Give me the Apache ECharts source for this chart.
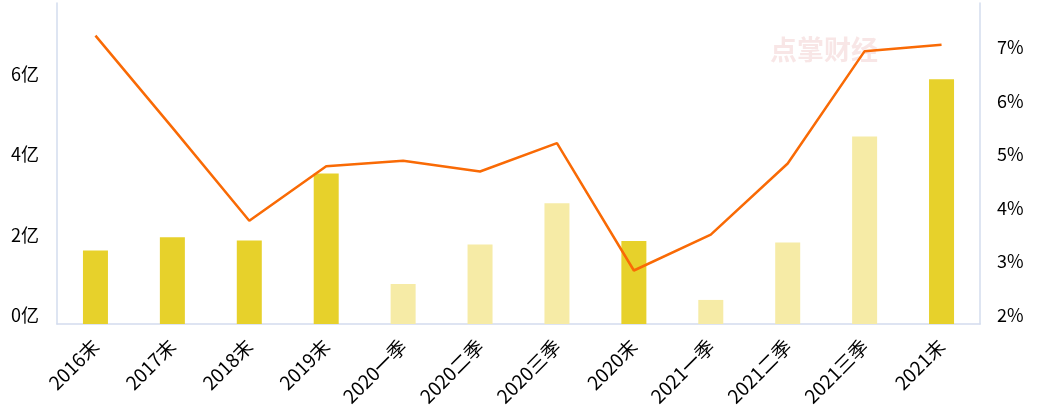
<!DOCTYPE html>
<html>
<head>
<meta charset="utf-8">
<script src="https://cdn.jsdelivr.net/npm/echarts@6/dist/echarts.min.js"></script>
<style>
html,body{margin:0;padding:0;background:#fff;}
#chart{width:1039px;height:420px;}
</style>
</head>
<body>
<div id="chart"></div>
<script>
const categories = ['2016末','2017末','2018末','2019末','2020一季','2020二季','2020三季','2020末','2021一季','2021二季','2021三季','2021末'];
const amounts = [1.83, 2.16, 2.08, 3.75, 1.00, 1.98, 3.01, 2.07, 0.60, 2.03, 4.67, 6.10];
const rates = [7.39, 5.67, 3.93, 4.95, 5.05, 4.85, 5.38, 3.00, 3.67, 5.00, 7.10, 7.22];

const FONT = '"Noto Sans CJK SC", "Noto Sans", sans-serif';
const chart = echarts.init(document.getElementById('chart'));
chart.setOption({
  animation: false,
  backgroundColor: '#ffffff',
  grid: { left: 57, right: 59, top: 3, bottom: 96, containLabel: false },
  graphic: [{
    type: 'text', left: 770, top: 36, z: 0,
    style: { text: '点掌财经', fontSize: 27, fontWeight: 'bold', fontFamily: FONT, fill: 'rgba(225,140,140,0.22)' }
  }],
  xAxis: {
    type: 'category',
    data: categories,
    axisLine: { show: true, lineStyle: { color: '#d3dcee', width: 1.5 } },
    axisTick: { show: false },
    axisLabel: { interval: 0, rotate: 45, margin: 19, color: '#000', fontSize: 19, fontFamily: FONT }
  },
  yAxis: [{
    type: 'value', min: 0, max: 8, interval: 2,
    splitLine: { show: false },
    axisLine: { show: true, lineStyle: { color: '#d3dcee', width: 1.5 } },
    axisTick: { show: false },
    axisLabel: { showMaxLabel: false, formatter: '{value}亿', color: '#000', fontSize: 18, fontFamily: FONT, margin: 18, verticalAlign: 'bottom' }
  }, {
    type: 'value', min: 2, max: 8, interval: 1, position: 'right',
    splitLine: { show: false },
    axisLine: { show: true, lineStyle: { color: '#d3dcee', width: 1.5 } },
    axisTick: { show: false },
    axisLabel: { showMaxLabel: false, formatter: '{value}%', color: '#000', fontSize: 18, fontFamily: FONT, margin: 17, verticalAlign: 'bottom' }
  }],
  series: [{
    type: 'bar',
    yAxisIndex: 0,
    barWidth: 25,
    data: amounts.map((v, i) => ({
      value: v,
      itemStyle: { color: categories[i].endsWith('末') ? '#e7d12b' : '#f6eba6' }
    }))
  }, {
    type: 'line',
    yAxisIndex: 1,
    data: rates,
    symbol: 'none',
    lineStyle: { color: '#f96a05', width: 2.5 },
    z: 5
  }]
});
</script>
</body>
</html>
